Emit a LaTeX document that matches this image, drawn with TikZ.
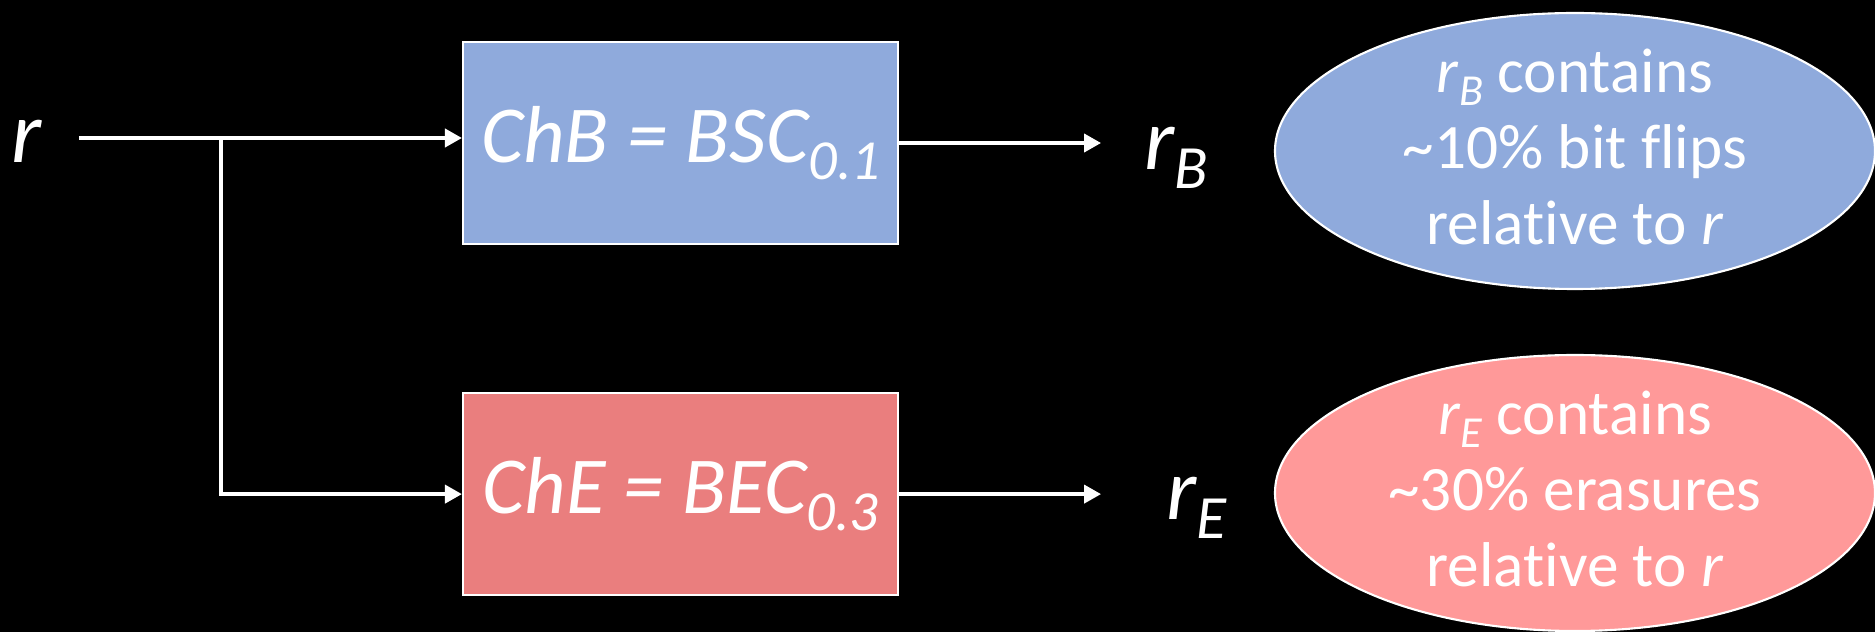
\documentclass[tikz,border=0pt]{standalone}
\usepackage{fontspec}
\setmainfont{Carlito}[Ligatures=NoCommon]
\usetikzlibrary{arrows.meta,positioning,shapes.geometric}
\definecolor{chanblue}{HTML}{8FAADC}
\definecolor{chanred}{HTML}{EA7E7E}
\definecolor{notered}{HTML}{FF9999}
% lowered, smaller index text
\makeatletter
\newcommand{\idx}[1]{\raisebox{-0.21em}{\fontsize{\strip@pt\dimexpr0.7\dimexpr\f@size pt\relax\relax}{0}\selectfont #1}}
\makeatother
\newcommand{\rsub}[1]{\textit{r}\idx{\textit{#1}}}

\begin{document}
\begin{tikzpicture}[
  every node/.style={text=white},
  chan/.style={rectangle, draw=white, line width=0.6pt, minimum width=4.35cm, minimum height=2.02cm, inner sep=0pt, font=\fontsize{23}{28}\selectfont\itshape},
  note/.style={ellipse, draw=white, line width=0.6pt, minimum width=6cm, minimum height=2.76cm, inner sep=0pt},
  notetext/.style={align=center, font=\fontsize{18}{21.6}\selectfont, yshift=0.04cm},
  sig/.style={font=\fontsize{25}{30}\selectfont\itshape, inner sep=0pt},
  wire/.style={draw=white, line width=1.1pt},
  arrow/.style={wire, -{Triangle[length=1.7mm,width=1.8mm]}}
]
\useasboundingbox (0,0) rectangle (18.75,6.32);
\fill[black] (0,0) rectangle (18.75,6.32);

% the two channels
\node[chan, fill=chanblue] (chB) at (6.805,4.89) {ChB = BSC\idx{0.1}};
\node[chan, fill=chanred, below=1.47cm of chB] (chE) {ChE = BEC\idx{0.3}};

% input r, split to both channels
\node[sig, anchor=base] (r) at (0.27,4.69) {r};
\coordinate (src) at (0.79,4.94);
\coordinate (tap) at (2.21,4.94);
\draw[arrow] (src) -- (src -| chB.west);
\draw[arrow] (tap) |- (chE.west);

% outputs
\coordinate[right=2.02cm of chB.east] (outB);
\coordinate[right=2.02cm of chE.east] (outE);
\draw[arrow] (chB) -- (outB);
\draw[arrow] (chE) -- (outE);
\node[sig, anchor=base west] (rB) at (11.44,4.62) {\rsub{B}};
\node[sig, anchor=base west] (rE) at (11.66,1.12) {\rsub{E}};

% what each output holds
\node[note, fill=chanblue, label={[notetext]center:{\rsub{B} contains\\ \textasciitilde10\% bit flips\\ relative to \textit{r}}}] (noteB) at (15.75,4.81) {};
\node[note, fill=notered, label={[notetext]center:{\rsub{E} contains\\ \textasciitilde30\% erasures\\ relative to \textit{r}}}] (noteE) at (15.75,1.39) {};
\end{tikzpicture}
\end{document}
